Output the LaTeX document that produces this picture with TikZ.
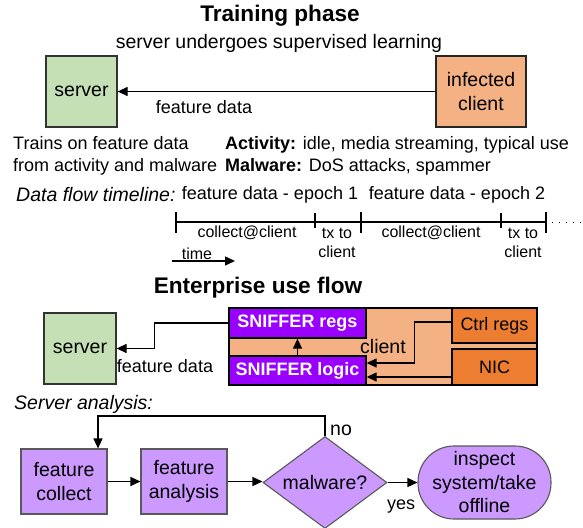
\documentclass[tikz,border=0pt]{standalone}
\usepackage{fontspec}
\setmainfont{Liberation Sans}
\usepackage{tikz}
\usetikzlibrary{arrows.meta,positioning,shapes.geometric}
\definecolor{srvgreen}{HTML}{C5E0B4}
\definecolor{clientpeach}{HTML}{F4B183}
\definecolor{hworange}{HTML}{ED7D31}
\definecolor{sniffpurple}{HTML}{9900FF}
\definecolor{steplilac}{HTML}{CC99FF}
\tikzset{
  ids title/.style={font=\fontsize{22.6}{26}\selectfont\bfseries,inner sep=0pt},
  ids text/.style={font=\fontsize{19.5}{23.5}\selectfont,inner sep=0pt},
  ids italic/.style={font=\fontsize{19.5}{23.5}\selectfont\itshape,inner sep=0pt},
  ids label/.style={font=\fontsize{18}{22}\selectfont,inner sep=0pt},
  ids small/.style={font=\fontsize{16}{19}\selectfont,inner sep=0pt,align=center},
  ids server/.style={ids text,draw=black!80,line width=1.3pt,fill=srvgreen},
  ids client/.style={ids text,draw=black!85,line width=1.3pt,fill=clientpeach,align=center},
  ids sniffer/.style={draw=black,line width=1.3pt,fill=sniffpurple,text=white,
    font=\fontsize{18}{22}\selectfont\bfseries,inner sep=0pt},
  ids hw/.style={ids label,draw=black,line width=1.3pt,fill=hworange},
  ids stepbox/.style={ids text,draw=black!65,line width=1.1pt,fill=steplilac,align=center},
  ids decision/.style={ids text,diamond,shape aspect=1.35,draw=black!65,line width=1.1pt,fill=steplilac},
  ids link/.style={line width=1.3pt},
  ids tick/.style={line width=2.4pt},
  ids dots/.style={line width=1pt,dash pattern=on 1pt off 6pt}
}

\begin{document}
\begin{tikzpicture}[x=1pt,y=-1pt,>={Triangle[length=10pt,width=9pt]}]
\useasboundingbox[fill=white] (0,0) rectangle (583,527);
% training phase
\node[ids title] (trainTitle) at (280,16) {Training phase};
\node[ids text] (trainSub) at (279,43) {server undergoes supervised learning};
\node[ids server,minimum width=71pt,minimum height=71pt] (trainServer) at (81.5,91.5) {server};
\node[ids client,minimum width=90pt,minimum height=71pt] (trainClient) at (481,91.5) {infected\\client};
\draw[ids link,->] (trainClient) -- (trainServer);
\node[ids label] (trainData) at (204,107) {feature data};
\node[ids label,anchor=west,align=left] (trainNote) at (13,156) {Trains on feature data\\from activity and malware};
\node[ids label,anchor=west,align=left] (trainSet) at (225,156) {\textbf{Activity:} idle, media streaming, typical use\\\textbf{Malware:} DoS attacks, spammer};

% timeline
\node[ids italic,anchor=west] (flowTitle) at (16,195) {Data flow timeline:};
\node[ids label] (epochOne) at (270,195) {feature data - epoch 1};
\node[ids label] (epochTwo) at (457,195) {feature data - epoch 2};
\coordinate (tA) at (176,222);
\coordinate (tB) at (315,222);
\coordinate (tC) at (361,222);
\coordinate (tD) at (501,222);
\coordinate (tE) at (546,222);
\coordinate (tEnd) at (583,222);
\draw[ids link] (tA) -- (tE);
\foreach \c in {tA,tC,tE}
  \draw[ids tick] ([yshift=10pt]\c) -- ([yshift=-11pt]\c);
\foreach \c in {tB,tD}
  \draw[ids link] ([yshift=9pt]\c) -- ([yshift=-6pt]\c);
\draw[ids dots] ([xshift=6pt]tE) -- (tEnd);
\node[ids small] (collectOne) at (247,233) {collect@client};
\node[ids small] (collectTwo) at (431,233) {collect@client};
\node[ids small] (txOne) at (337,243) {tx to\\client};
\node[ids small] (txTwo) at (523,243) {tx to\\client};
\node[ids small] (timeLbl) at (197,254) {time};
\coordinate (timeTail) at (172,261);
\coordinate (timeHead) at (235,261);
\draw[ids link,->] (timeTail) -- (timeHead);

% enterprise use flow
\node[ids title] (entTitle) at (258,288) {Enterprise use flow};
\node[ids server,minimum width=72pt,minimum height=71pt] (entServer) at (80,348.5) {server};
\node[ids client,minimum width=308pt,minimum height=77pt,draw=black] (entClient) at (383,346.5) {client};
\node[ids sniffer,minimum width=137pt,minimum height=30pt] (sniffRegs) at (297.5,323) {SNIFFER regs};
\node[ids sniffer,minimum width=137pt,minimum height=29pt] (sniffLogic) at (297.5,370.5) {SNIFFER logic};
\node[ids hw,minimum width=85pt,minimum height=35pt] (ctrlRegs) at (494.5,325.5) {Ctrl regs};
\node[ids hw,minimum width=85pt,minimum height=36pt] (nic) at (494.5,367) {NIC};
\draw[ids link,->] (sniffLogic) -- (sniffRegs);
\draw[ids link,->] (sniffRegs.west) -- ++(-74,0) |- (entServer.east);
\node[ids label] (entData) at (165,366) {feature data};
\draw[ids link,->] ([yshift=3.5pt]ctrlRegs.west) -- ++(-37,0) |- ([yshift=7.5pt]sniffLogic.east);
\draw[ids link,->] ([yshift=-10pt]nic.west) -- ([yshift=-6.5pt]sniffLogic.east);

% server analysis
\node[ids italic,anchor=west] (anaTitle) at (14,404) {Server analysis:};
\node[ids stepbox,minimum width=86pt,minimum height=65pt] (featCollect) at (64,481.5) {feature\\collect};
\node[ids stepbox,minimum width=86pt,minimum height=65pt] (featAnalysis) at (184,481.5) {feature\\analysis};
\node[ids decision,minimum width=124pt,minimum height=92pt] (isMalware) at (325,482.5) {malware?};
\node[ids stepbox,rounded corners=36pt,minimum width=133pt,minimum height=73pt] (inspect) at (484.5,482.5) {inspect\\system/take\\offline};
\draw[ids link,->] (featCollect) -- (featAnalysis);
\draw[ids link,->] (featAnalysis) -- (featAnalysis -| isMalware.west);
\draw[ids link,->] (isMalware) -- (inspect);
\draw[ids link,->] (isMalware.north) -- ++(0,-20) -| ([xshift=34pt]featCollect.north);
\node[ids text] (noLbl) at (341,430) {no};
\node[ids label] (yesLbl) at (401,507) {yes};
\end{tikzpicture}
\end{document}
